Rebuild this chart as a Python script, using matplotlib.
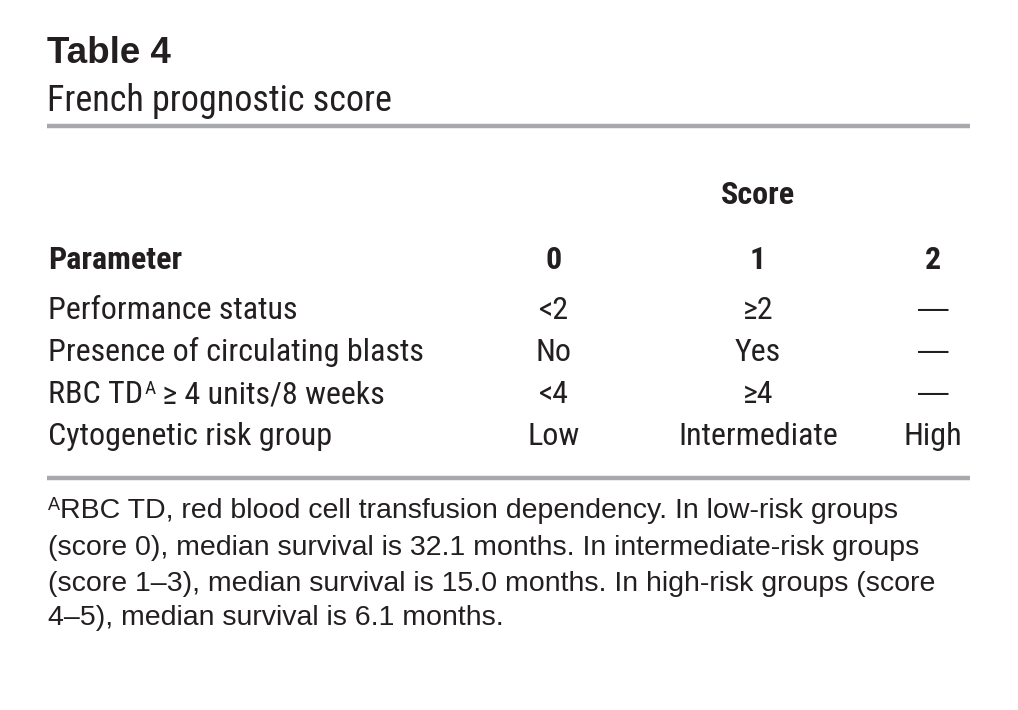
import matplotlib
matplotlib.use("Agg")
import matplotlib.pyplot as plt
from matplotlib import font_manager

# table content
title = "Table 4"
subtitle = "French prognostic score"
group_label = "Score"
col_header = ["Parameter", "0", "1", "2"]
row_labels = [
    "Performance status",
    "Presence of circulating blasts",
    "RBC TD",
    "Cytogenetic risk group",
]
row_tail = ["", "", " ≥ 4 units/8 weeks", ""]  # text after the superscript mark
score0 = ["<2", "No", "<4", "Low"]
score1 = ["≥2", "Yes", "≥4", "Intermediate"]
score2 = ["—", "—", "—", "High"]
footnote = [
    "RBC TD, red blood cell transfusion dependency. In low-risk groups",
    "(score 0), median survival is 32.1 months. In intermediate-risk groups",
    "(score 1–3), median survival is 15.0 months. In high-risk groups (score",
    "4–5), median survival is 6.1 months.",
]


def find_narrow(bold=False):
    # look for a condensed sans face among the installed fonts
    prefs = ["RobotoCondensed", "OpenSans_Condensed", "OpenSansCondensed",
             "NotoSans-Condensed", "LiberationSansNarrow", "DejaVuSansCondensed"]
    skip = ["italic", "oblique", "light", "semi", "extra", "medium", "black", "thin"]
    files = [f.fname for f in font_manager.fontManager.ttflist]
    for p in prefs:
        for fn in files:
            base = fn.split("/")[-1].replace(" ", "").lower()
            if p.lower() in base and ("bold" in base) == bold and not any(s in base for s in skip):
                return font_manager.FontProperties(fname=fn)
    return font_manager.FontProperties(family="DejaVu Sans", stretch="condensed",
                                       weight="bold" if bold else "normal")


def sized(fp, size):
    fp = fp.copy()
    fp.set_size(size)
    return fp


nr = find_narrow(False)
nb = find_narrow(True)

fig = plt.figure(figsize=(10.18, 7.10), dpi=100)
ax = fig.add_axes([0, 0, 1, 1])
ax.set_xlim(0, 1018)
ax.set_ylim(710, 0)
ax.axis("off")
renderer = fig.canvas.get_renderer()

ink = "#231f20"
rule = "#a7a9ac"
plain = "Liberation Sans"


def right_edge(t):
    # x position (data units) of the right end of a text
    bb = t.get_window_extent(renderer=renderer)
    return ax.transData.inverted().transform((bb.x1, bb.y0))[0]


ax.text(47, 63, title, fontsize=26.5, fontweight="bold", family=plain, color=ink, va="baseline")
ax.text(47, 111, subtitle, fontproperties=sized(nr, 26), color=ink, va="baseline")
ax.plot([47, 970], [126, 126], color=rule, lw=3.2, solid_capstyle="butt")

col_x = [554, 758, 933]
ax.text(col_x[1], 204, group_label, fontproperties=sized(nb, 23), color=ink,
        va="baseline", ha="center")

ax.text(48, 269, col_header[0], fontproperties=sized(nb, 23), color=ink, va="baseline")
for x, h in zip(col_x, col_header[1:]):
    ax.text(x, 269, h, fontproperties=sized(nb, 23), color=ink, va="baseline", ha="center")

row_y = [319, 361, 403, 445]
for y, lab, tail, a, b, c in zip(row_y, row_labels, row_tail, score0, score1, score2):
    t = ax.text(48, y, lab, fontproperties=sized(nr, 23), color=ink, va="baseline")
    if tail:
        x1 = right_edge(t) + 1
        sup = ax.text(x1, y - 9, "A", fontproperties=sized(nr, 14), color=ink, va="baseline")
        ax.text(right_edge(sup), y, tail, fontproperties=sized(nr, 23), color=ink, va="baseline")
    for x, v in zip(col_x, [a, b, c]):
        if v == "—":
            ax.text(x, y - 1, v, fontsize=22, family=plain, color=ink, va="baseline", ha="center")
        else:
            ax.text(x, y, v, fontproperties=sized(nr, 23), color=ink, va="baseline", ha="center")

ax.plot([47, 970], [478, 478], color=rule, lw=3.2, solid_capstyle="butt")

foot_y = [518, 555, 591, 625]
for i, (y, line) in enumerate(zip(foot_y, footnote)):
    if i == 0:
        sup = ax.text(48, y - 8, "A", fontsize=13, family=plain, color=ink, va="baseline")
        ax.text(right_edge(sup), y, line, fontsize=20.5, family=plain, color=ink, va="baseline")
    else:
        ax.text(48, y, line, fontsize=20.5, family=plain, color=ink, va="baseline")

fig.savefig("out.png", dpi=100, facecolor="white")
